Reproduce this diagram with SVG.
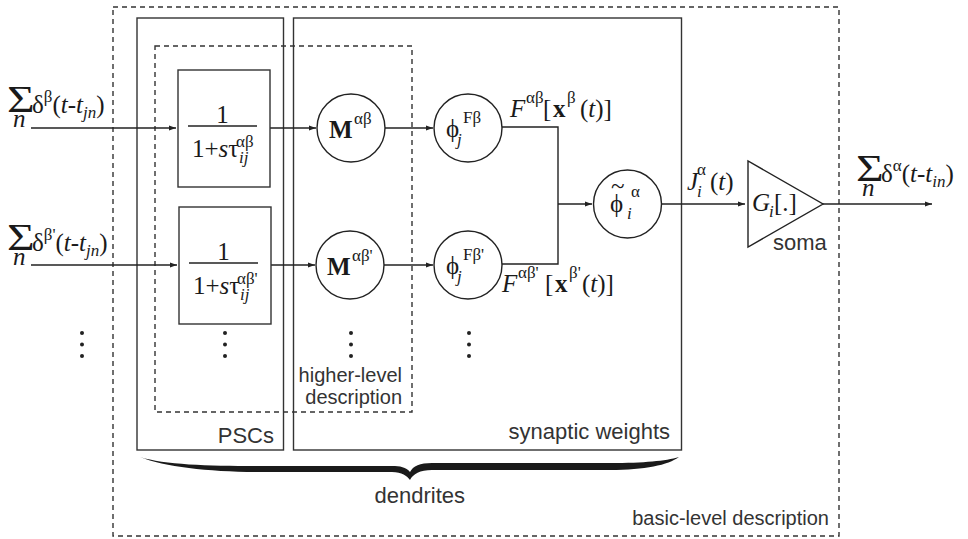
<svg xmlns="http://www.w3.org/2000/svg" width="968" height="539" viewBox="0 0 968 539">
<defs>
<marker id="ah" viewBox="0 0 10 10" refX="10" refY="5" markerWidth="9" markerHeight="7" markerUnits="userSpaceOnUse" orient="auto">
<path d="M0,1.5 L10,5 L0,8.5 Z" fill="#222"/>
</marker>
</defs>
<style>
.box{fill:none;stroke:#333;stroke-width:1.4}
.dash{fill:none;stroke:#333;stroke-width:1.4;stroke-dasharray:5,4}
.node{fill:#fff;stroke:#222;stroke-width:1.4}
.wire{fill:none;stroke:#222;stroke-width:1.4}
.arr{fill:none;stroke:#222;stroke-width:1.4;marker-end:url(#ah)}
.m{font-family:"Liberation Serif","DejaVu Serif",serif;font-size:25px;fill:#1a1a1a}
.sm{font-size:17px}
.it{font-style:italic}
.bd{font-weight:bold}
.sig{font-family:"Liberation Serif","DejaVu Serif",serif;font-size:38px;fill:#1a1a1a}
.lab{font-family:"Liberation Sans",Arial,sans-serif;font-size:22px;fill:#333}
.lab2{font-family:"Liberation Sans",Arial,sans-serif;font-size:20px;fill:#333}
.dot{fill:#222}
</style>

<g id="basic-level">
<rect class="dash" x="113" y="7" width="726" height="529"/>
<text class="lab2" x="829" y="525" text-anchor="end">basic-level description</text>
</g>

<g id="pscs-box">
<rect class="box" x="137" y="18" width="146.5" height="432"/>
<text class="lab" x="274" y="443" text-anchor="end">PSCs</text>
</g>

<g id="synaptic-box">
<rect class="box" x="293.5" y="18" width="388" height="432"/>
<text class="lab" x="670" y="439" text-anchor="end">synaptic weights</text>
</g>

<g id="higher-level">
<rect class="dash" x="155" y="46" width="257" height="366"/>
<text class="lab2" x="402" y="382" text-anchor="end">higher-level</text>
<text class="lab2" x="402" y="404" text-anchor="end">description</text>
</g>

<g id="connectors">
<line class="arr" x1="31" y1="128" x2="176" y2="128"/>
<line class="arr" x1="31" y1="265" x2="177" y2="265"/>
<line class="arr" x1="270" y1="128" x2="316" y2="128"/>
<line class="arr" x1="271" y1="265" x2="315" y2="265"/>
<line class="arr" x1="385" y1="128" x2="433" y2="128"/>
<line class="arr" x1="384" y1="265" x2="433" y2="265"/>
<path class="wire" d="M502,127 H558 V264 H502"/>
<line class="arr" x1="558" y1="204" x2="592" y2="204"/>
<line class="arr" x1="661" y1="204" x2="745" y2="204"/>
<line class="arr" x1="823" y1="204" x2="932" y2="204"/>
</g>

<g id="input1">
<text class="sig" transform="translate(7,112) scale(1.25,1)">Σ</text>
<text class="m it" x="13" y="127" font-size="18">n</text>
<text class="m" x="32" y="113" font-size="26">δ<tspan class="sm" dy="-11">β</tspan><tspan dy="11">(</tspan><tspan class="it">t</tspan>-<tspan class="it">t</tspan><tspan class="sm it" dy="5">jn</tspan><tspan dy="-5">)</tspan></text>
</g>

<g id="input2">
<text class="sig" transform="translate(7,250) scale(1.25,1)">Σ</text>
<text class="m it" x="13" y="265" font-size="18">n</text>
<text class="m" x="32" y="251" font-size="26">δ<tspan class="sm" dy="-11">β'</tspan><tspan dy="11">(</tspan><tspan class="it">t</tspan>-<tspan class="it">t</tspan><tspan class="sm it" dy="5">jn</tspan><tspan dy="-5">)</tspan></text>
</g>

<g id="psc1">
<rect class="box" x="178" y="70" width="92" height="117"/>
<text class="m" x="222.5" y="123" text-anchor="middle" font-size="24">1</text>
<line class="wire" x1="188" y1="126" x2="257" y2="126"/>
<text class="m" x="192" y="157" font-size="24">1+<tspan class="it">s</tspan>τ</text>
<text class="m sm" x="236" y="147">αβ</text>
<text class="m sm it" x="239" y="163">ij</text>
</g>

<g id="psc2">
<rect class="box" x="179" y="207" width="92" height="117"/>
<text class="m" x="223.5" y="260" text-anchor="middle" font-size="24">1</text>
<line class="wire" x1="189" y1="263" x2="258" y2="263"/>
<text class="m" x="193" y="294" font-size="24">1+<tspan class="it">s</tspan>τ</text>
<text class="m sm" x="237" y="284">αβ'</text>
<text class="m sm it" x="240" y="300">ij</text>
</g>

<g id="m1">
<circle class="node" cx="351" cy="128" r="34"/>
<text class="m bd" x="329" y="138" font-size="26">M</text>
<text class="m sm" x="354" y="124">αβ</text>
</g>

<g id="m2">
<circle class="node" cx="350" cy="265" r="34"/>
<text class="m bd" x="327" y="275" font-size="26">M</text>
<text class="m sm" x="352" y="261">αβ'</text>
</g>

<g id="phi1">
<circle class="node" cx="468" cy="128" r="34"/>
<text class="m" x="446" y="137" font-size="27">ϕ</text>
<text class="m sm it" x="457" y="145">j</text>
<text class="m sm" x="463" y="123">Fβ</text>
</g>

<g id="phi2">
<circle class="node" cx="468" cy="265" r="34"/>
<text class="m" x="446" y="274" font-size="27">ϕ</text>
<text class="m sm it" x="457" y="282">j</text>
<text class="m sm" x="463" y="260">Fβ'</text>
</g>

<g id="phi-tilde">
<circle class="node" cx="627.5" cy="204" r="34"/>
<text class="m" x="610" y="212" font-size="27">ϕ</text>
<text class="m" x="611" y="194" font-size="22">~</text>
<text class="m sm it" x="627" y="219">i</text>
<text class="m sm" x="631" y="197">α</text>
</g>

<g id="soma">
<path class="node" d="M748,161 L748,247 L823,204 Z"/>
<text class="m it" x="752" y="211">G</text>
<text class="m sm it" x="769" y="217">i</text>
<text class="m" x="774" y="211">[.]</text>
<text class="lab" x="773" y="250">soma</text>
</g>

<g id="labels">
<text class="m it" x="510" y="117" font-size="27">F</text>
<text class="m sm" x="526" y="103">αβ</text>
<text class="m" x="543" y="117" font-size="27">[</text>
<text class="m bd" x="553" y="117" font-size="28">x</text>
<text class="m sm" x="567" y="103">β</text>
<text class="m" x="580" y="117" font-size="27">(<tspan class="it">t</tspan>)]</text>

<text class="m it" x="502" y="292" font-size="27">F</text>
<text class="m sm" x="518" y="278">αβ'</text>
<text class="m" x="545" y="292" font-size="27">[</text>
<text class="m bd" x="555" y="292" font-size="28">x</text>
<text class="m sm" x="569" y="278">β'</text>
<text class="m" x="582" y="292" font-size="27">(<tspan class="it">t</tspan>)]</text>

<text class="m it" x="687" y="190" font-size="26">J</text>
<text class="m sm it" x="697" y="197">i</text>
<text class="m sm" x="697" y="175">α</text>
<text class="m" x="710" y="190" font-size="26">(<tspan class="it">t</tspan>)</text>

<text class="sig" transform="translate(856,181) scale(1.25,1)">Σ</text>
<text class="m it" x="862" y="196" font-size="18">n</text>
<text class="m" x="881" y="182" font-size="26">δ<tspan class="sm" dy="-11">α</tspan><tspan dy="11">(</tspan><tspan class="it">t</tspan>-<tspan class="it">t</tspan><tspan class="sm it" dy="5">in</tspan><tspan dy="-5">)</tspan></text>
</g>

<g id="dots">
<circle class="dot" cx="82" cy="333" r="2"/><circle class="dot" cx="82" cy="344.5" r="2"/><circle class="dot" cx="82" cy="356" r="2"/>
<circle class="dot" cx="225" cy="333" r="2"/><circle class="dot" cx="225" cy="344.5" r="2"/><circle class="dot" cx="225" cy="356" r="2"/>
<circle class="dot" cx="351" cy="333" r="2"/><circle class="dot" cx="351" cy="344.5" r="2"/><circle class="dot" cx="351" cy="356" r="2"/>
<circle class="dot" cx="469" cy="333" r="2"/><circle class="dot" cx="469" cy="344.5" r="2"/><circle class="dot" cx="469" cy="356" r="2"/>
</g>

<g id="dendrites">
<path fill="#1a1a1a" d="M140,457 C165,467 210,472 260,472 L392,472 C402,472 407,476 410,480 C413,474 420,470 432,470 L610,470 C645,470 668,465 679,457 C665,461 645,463 610,463 L432,463 C420,463 413,466 410,472 C406,467 400,466 392,466 L260,466 C210,466 165,465 140,457 Z"/>
<text class="lab" x="465" y="503" text-anchor="end">dendrites</text>
</g>
</svg>
